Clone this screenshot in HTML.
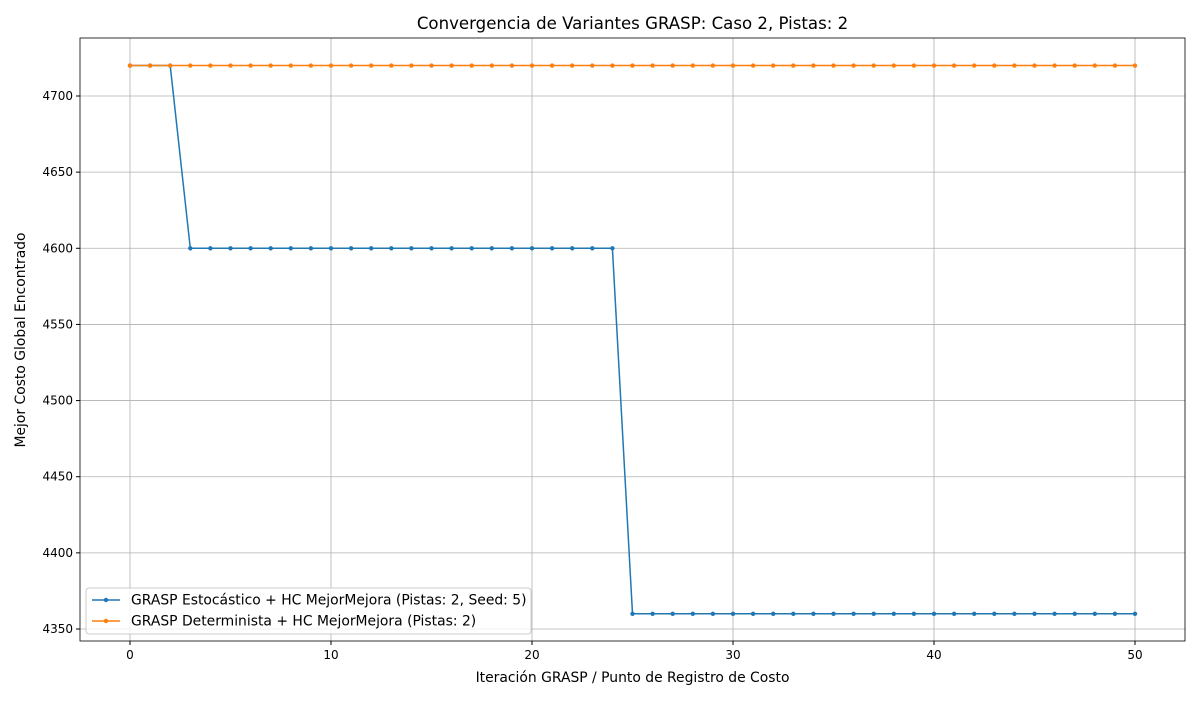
<!DOCTYPE html>
<html><head><meta charset="utf-8"><style>
body{margin:0;background:#fff;font-family:"Liberation Sans","DejaVu Sans",sans-serif;}
svg text{font-family:"DejaVu Sans","Liberation Sans",sans-serif;}
</style></head><body>
<svg id="chart" width="1200" height="700"></svg>
<script>
const xTicks=[0,10,20,30,40,50];
const yTicks=[4350,4400,4450,4500,4550,4600,4650,4700];
const iterations=Array.from({length:51},(_,i)=>i);
const stochasticCost=[4720,4720,4720,4600,4600,4600,4600,4600,4600,4600,4600,4600,4600,4600,4600,4600,4600,4600,4600,4600,4600,4600,4600,4600,4600,4360,4360,4360,4360,4360,4360,4360,4360,4360,4360,4360,4360,4360,4360,4360,4360,4360,4360,4360,4360,4360,4360,4360,4360,4360,4360];
const deterministicCost=[4720,4720,4720,4720,4720,4720,4720,4720,4720,4720,4720,4720,4720,4720,4720,4720,4720,4720,4720,4720,4720,4720,4720,4720,4720,4720,4720,4720,4720,4720,4720,4720,4720,4720,4720,4720,4720,4720,4720,4720,4720,4720,4720,4720,4720,4720,4720,4720,4720,4720,4720];
const seriesNames=["GRASP Estocástico + HC MejorMejora (Pistas: 2, Seed: 5)","GRASP Determinista + HC MejorMejora (Pistas: 2)"];
const svg=document.getElementById('chart');const NS='http://www.w3.org/2000/svg';
const L=80,R=1185,T=38,B=641;
const sx=v=>130+(v-0)*(1135-130)/50;
const sy=v=>96+(4700-v)*(629-96)/350;
function el(t,a,p){const e=document.createElementNS(NS,t);for(const k in a)e.setAttribute(k,a[k]);(p||svg).appendChild(e);return e;}
xTicks.forEach(v=>{const g=el('g',{});


el('line',{x1:sx(v),x2:sx(v),y1:T,y2:B,stroke:'#b0b0b0','stroke-width':0.8},g);
el('line',{x1:sx(v),x2:sx(v),y1:B,y2:B+4,stroke:'#000'},g);
const t=el('text',{x:sx(v),y:B+18,'text-anchor':'middle','font-size':12},g);t.textContent=v;});
yTicks.forEach(v=>{const g=el('g',{});


el('line',{x1:L,x2:R,y1:sy(v),y2:sy(v),stroke:'#b0b0b0','stroke-width':0.8},g);
el('line',{x1:L-4,x2:L,y1:sy(v),y2:sy(v),stroke:'#000'},g);
const t=el('text',{x:L-7,y:sy(v)+4,'text-anchor':'end','font-size':12},g);t.textContent=v;});
const colors=['#1f77b4','#ff7f0e'];
[stochasticCost,deterministicCost].forEach((s,k)=>{const g=el('g',{});


el('polyline',{points:s.map((v,i)=>sx(iterations[i])+','+sy(v)).join(' '),fill:'none',stroke:colors[k],'stroke-width':1.5},g);
s.forEach((v,i)=>el('circle',{cx:sx(iterations[i]),cy:sy(v),r:2.2,fill:colors[k]},g));});
const fr=el('rect',{x:L,y:T,width:R-L,height:B-T,fill:'none',stroke:'#000','stroke-width':0.8});

const tt=el('text',{x:(L+R)/2,y:29,'text-anchor':'middle','font-size':16.6});tt.textContent='Convergencia de Variantes GRASP: Caso 2, Pistas: 2';

const xl=el('text',{x:(L+R)/2,y:682,'text-anchor':'middle','font-size':13.9});xl.textContent='Iteración GRASP / Punto de Registro de Costo';

const yl=el('text',{x:0,y:0,'text-anchor':'middle','font-size':13.9,transform:'translate(25,340) rotate(-90)'});yl.textContent='Mejor Costo Global Encontrado';

const lg=el('g',{});
el('rect',{x:86,y:588,width:445,height:46,rx:3,fill:'#fff','fill-opacity':0.8,stroke:'#ccc'},lg);
seriesNames.forEach((n,k)=>{const y=600+k*21;const e=el('g',{},lg);

el('line',{x1:92,x2:120,y1:y,y2:y,stroke:colors[k],'stroke-width':1.5},e);
el('circle',{cx:106,cy:y,r:2.2,fill:colors[k]},e);
const t=el('text',{x:131,y:y+4.5,'font-size':13.9},e);t.textContent=n;});
</script></body></html>
